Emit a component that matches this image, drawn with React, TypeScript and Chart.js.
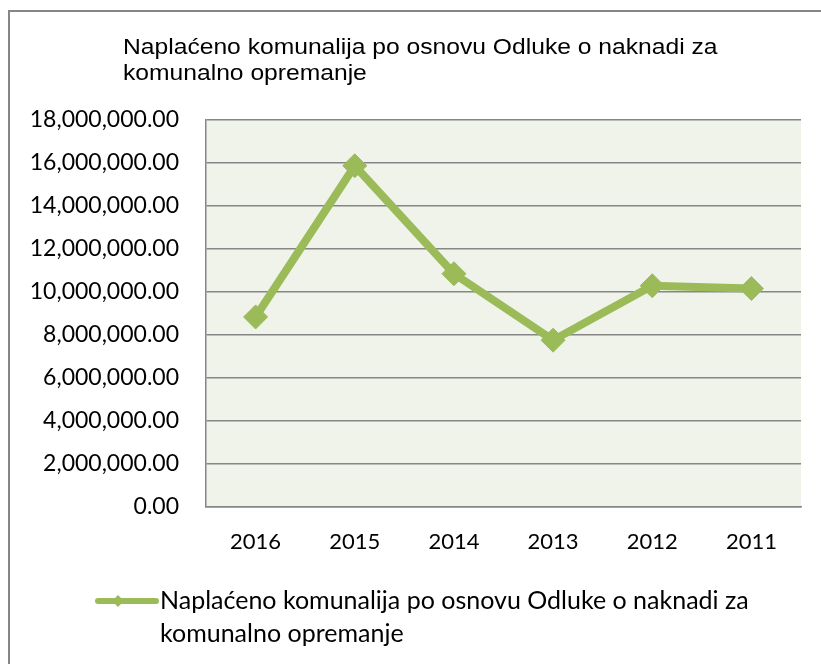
import React, { useEffect, useRef } from "react";
import { Chart, registerables } from "chart.js";

Chart.register(...registerables);

const categories = ["2016", "2015", "2014", "2013", "2012", "2011"];
const seriesName = "Naplaćeno komunalija po osnovu Odluke o naknadi za komunalno opremanje";
const values = [8840000, 15870000, 10850000, 7760000, 10290000, 10160000];
const titleLines = ["Naplaćeno komunalija po osnovu Odluke o naknadi za", "komunalno opremanje"];
const legendLines = ["Naplaćeno komunalija po osnovu Odluke o naknadi za", "komunalno opremanje"];
const yMin = 0;
const yMax = 18000000;
const yStep = 2000000;

const GREEN = "#9BBB59";
const GRID = "#868686";
const PLOT_BG = "#EFF3EA";
const LABEL_FONT = "Lato";

const decorPlugin = {
  id: "decor",
  beforeDraw(chart: any) {
    const { ctx, chartArea } = chart;
    ctx.save();
    ctx.fillStyle = "#ffffff";
    ctx.fillRect(0, 0, chart.width, chart.height);
    ctx.fillStyle = PLOT_BG;
    ctx.fillRect(chartArea.left, chartArea.top, chartArea.right - chartArea.left, chartArea.bottom - chartArea.top);
    ctx.restore();
  },
  afterDraw(chart: any) {
    const { ctx } = chart;
    ctx.save();
    // outer frame
    ctx.strokeStyle = GRID;
    ctx.lineWidth = 2;
    ctx.strokeRect(9, 11, 1000, 1000);
    // title (slightly widened like the original)
    ctx.fillStyle = "#000000";
    ctx.font = "22px 'Liberation Sans', Arial, sans-serif";
    ctx.textBaseline = "middle";
    ctx.textAlign = "left";
    titleLines.forEach((t, i) => {
      ctx.save();
      ctx.translate(123, 48 + i * 26);
      ctx.scale(1.12, 1);
      ctx.fillText(t, 0, 0);
      ctx.restore();
    });
    // legend
    const ly = 601;
    ctx.strokeStyle = GREEN;
    ctx.lineWidth = 6;
    ctx.lineCap = "round";
    ctx.beginPath();
    ctx.moveTo(98, ly);
    ctx.lineTo(156, ly);
    ctx.stroke();
    ctx.fillStyle = GREEN;
    ctx.beginPath();
    const dx = 118, r = 6;
    ctx.moveTo(dx - r, ly);
    ctx.lineTo(dx, ly - r);
    ctx.lineTo(dx + r, ly);
    ctx.lineTo(dx, ly + r);
    ctx.closePath();
    ctx.fill();
    ctx.fillStyle = "#000000";
    ctx.font = `25px ${LABEL_FONT}, sans-serif`;
    legendLines.forEach((t, i) => ctx.fillText(t, 160, ly + i * 33));
    ctx.restore();
  },
};

export default function App() {
  const ref = useRef<HTMLCanvasElement | null>(null);
  useEffect(() => {
    if (!ref.current) return;
    const chart = new Chart(ref.current, {
      type: "line",
      data: {
        labels: categories,
        datasets: [
          {
            label: seriesName,
            data: values,
            borderColor: GREEN,
            backgroundColor: GREEN,
            borderWidth: 8,
            pointStyle: "rectRot",
            pointRadius: 12,
            pointBorderWidth: 1,
            pointBackgroundColor: GREEN,
            pointBorderColor: GREEN,
            tension: 0,
            clip: false as any,
          },
        ],
      },
      options: {
        animation: false,
        responsive: false,
        maintainAspectRatio: false,
        layout: { padding: { left: 0, right: 20, top: 120, bottom: 97 } },
        plugins: {
          legend: { display: false },
          title: { display: false },
          tooltip: { enabled: false },
        },
        scales: {
          x: {
            offset: true,
            grid: { display: false, drawTicks: false },
            border: { display: true, color: GRID, width: 1.5 },
            ticks: {
              color: "#000000",
              padding: 22,
              font: { family: LABEL_FONT, size: 22 },
            },
            afterFit: (s: any) => {
              s.height = 60;
            },
          },
          y: {
            min: yMin,
            max: yMax,
            grid: { color: GRID, lineWidth: 1.5, drawTicks: false },
            border: { display: true, color: GRID, width: 1.5 },
            ticks: {
              stepSize: yStep,
              color: "#000000",
              padding: 27,
              font: { family: LABEL_FONT, size: 23 },
              callback: (v: any) =>
                Number(v).toLocaleString("en-US", { minimumFractionDigits: 2, maximumFractionDigits: 2 }),
            },
            afterFit: (s: any) => {
              s.width = 206;
            },
          },
        },
      },
      plugins: [decorPlugin],
    });
    return () => chart.destroy();
  }, []);
  return (
    <div style={{ position: "fixed", left: 0, top: 0, width: 821, height: 664 }}>
      <canvas ref={ref} width={821} height={664} style={{ width: 821, height: 664, display: "block" }} />
    </div>
  );
}
